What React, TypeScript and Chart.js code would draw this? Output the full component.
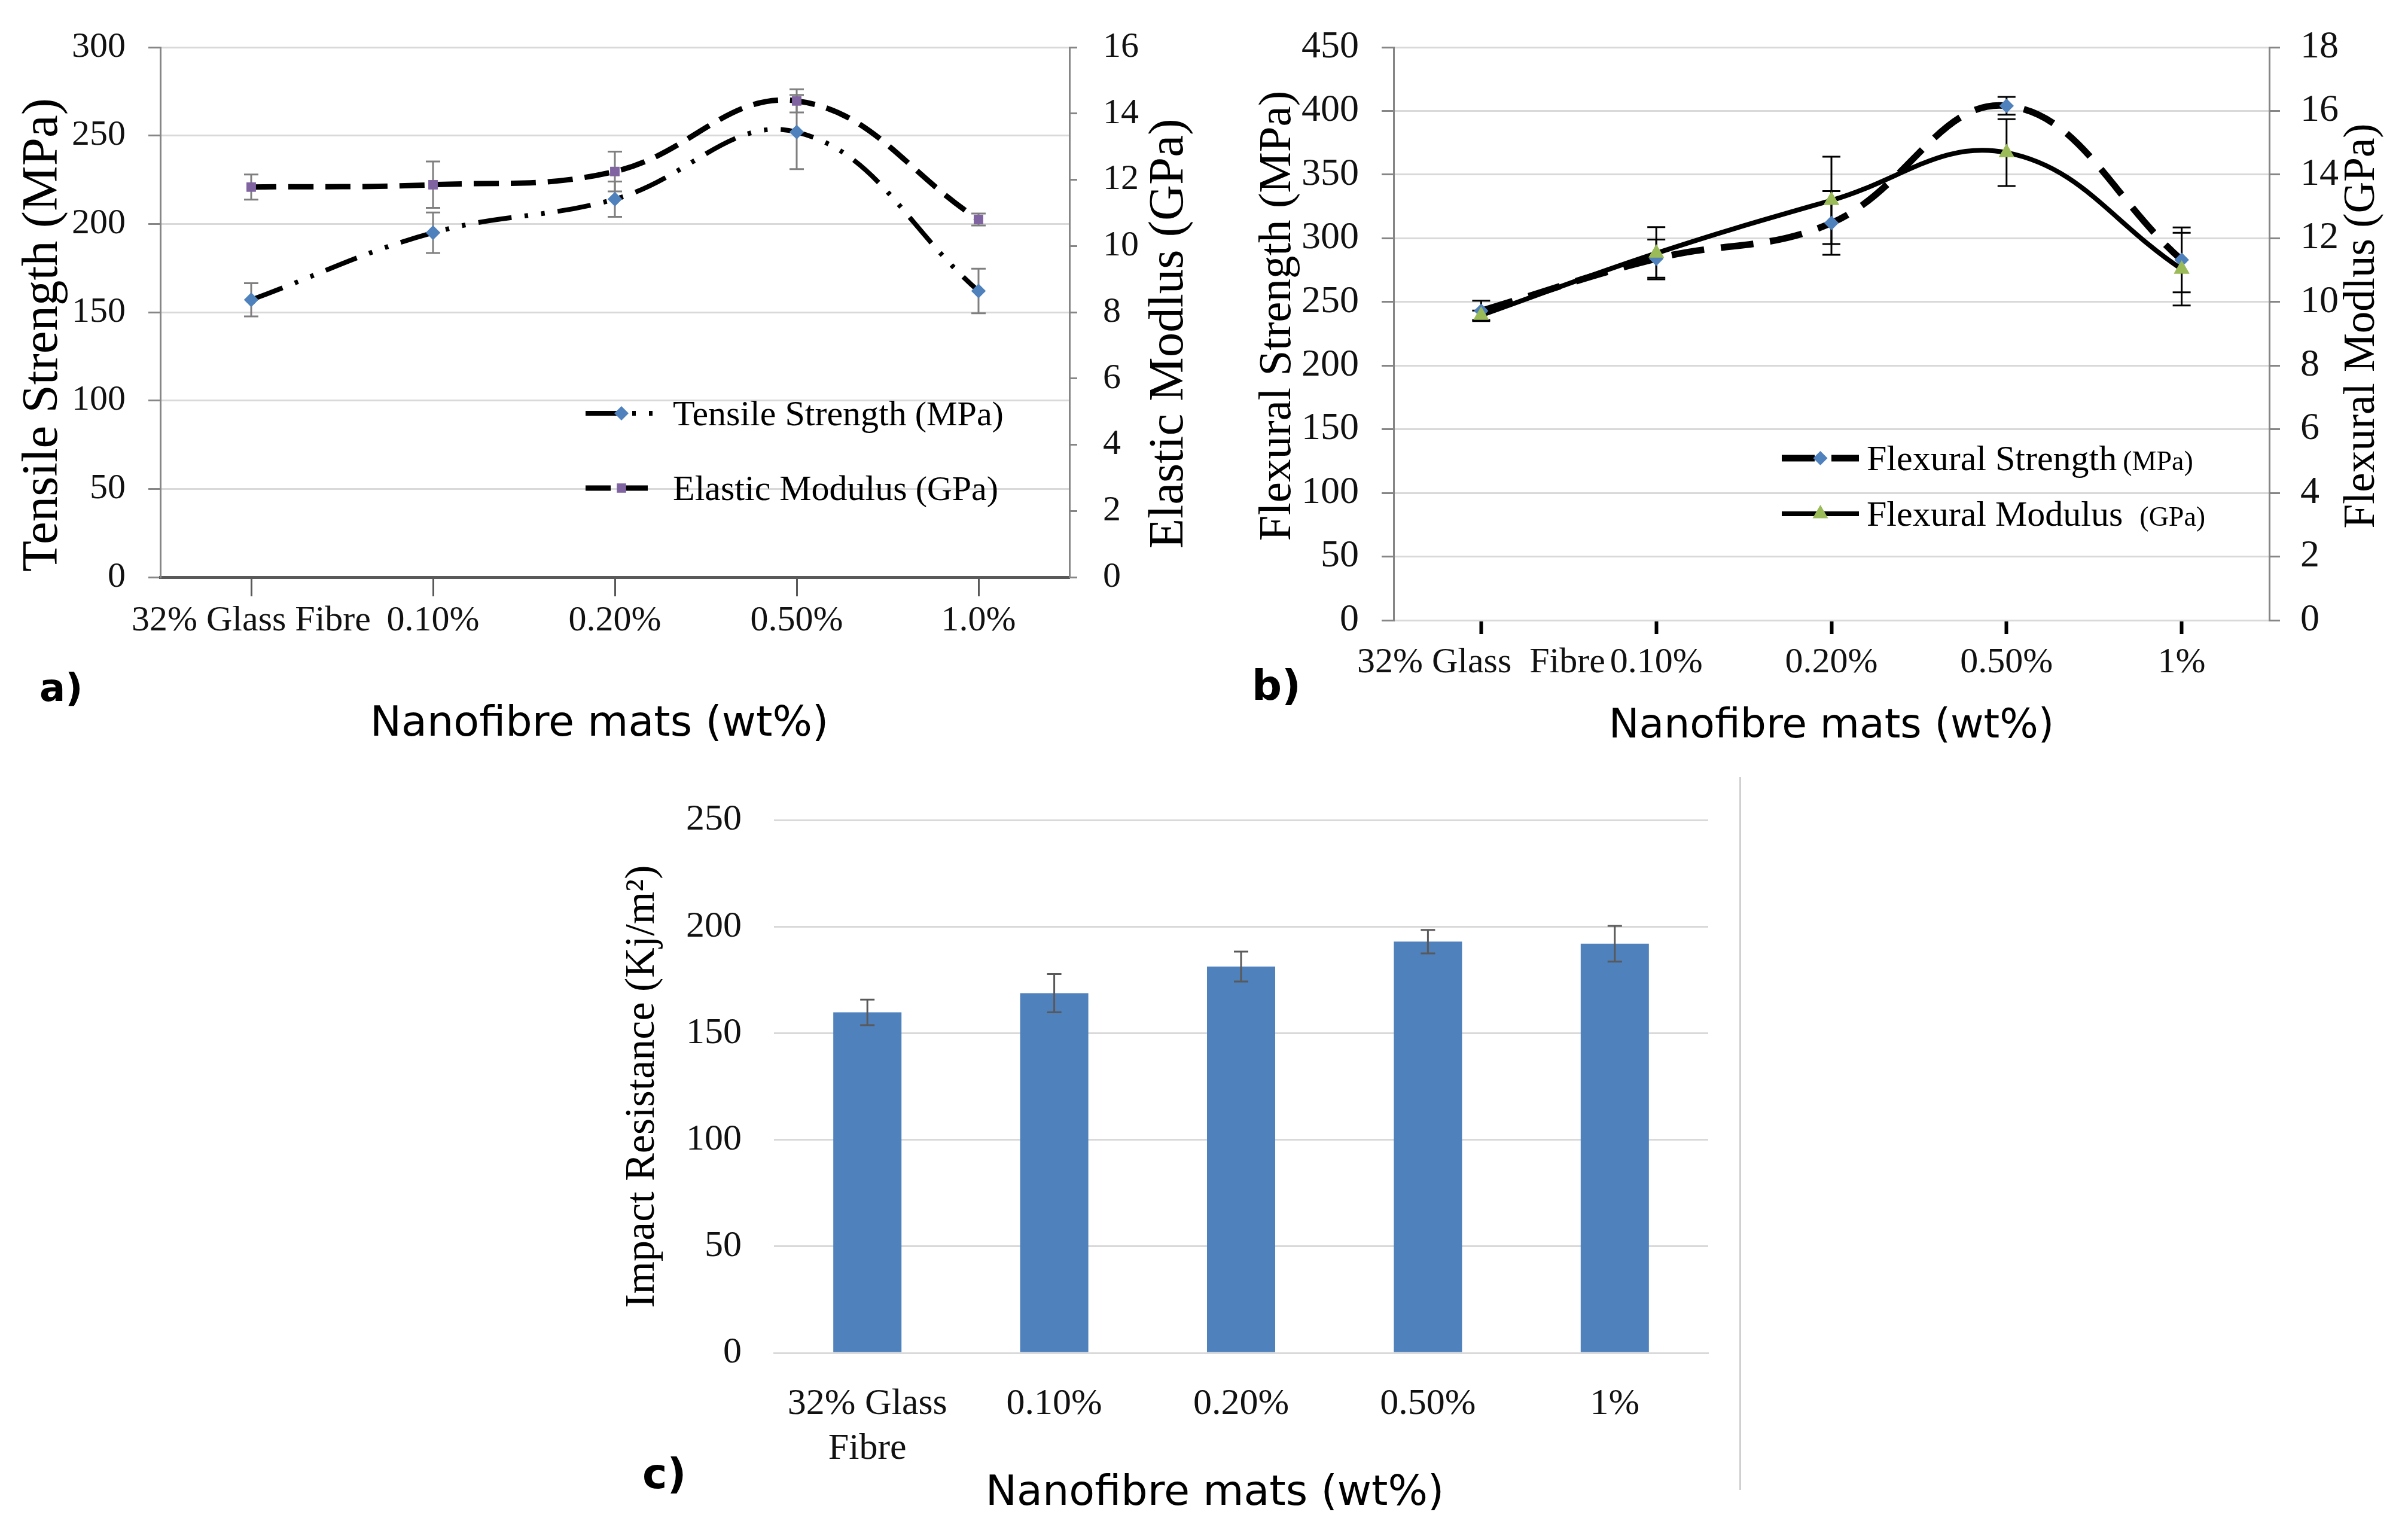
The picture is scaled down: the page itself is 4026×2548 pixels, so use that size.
import React, { useEffect, useRef } from 'react';
import { Chart, registerables } from 'chart.js';

Chart.register(...registerables);

// ---------------- data ----------------
const categoriesA = ['32% Glass Fibre', '0.10%', '0.20%', '0.50%', '1.0%'];
const legendNamesA = ['Tensile Strength', 'Elastic Modulus'];
const legendUnitsA = ['(MPa)', '(GPa)'];
const tensileStrength = [157, 195, 214, 252, 162];
const tensileErr = [9.4, 11.5, 10, 21, 12.6];
const elasticModulus = [11.78, 11.85, 12.25, 14.38, 10.8];
const elasticErr = [0.38, 0.7, 0.6, 0.35, 0.18];

const categoriesB = ['32% Glass  Fibre', '0.10%', '0.20%', '0.50%', '1%'];
const legendNamesB = ['Flexural Strength', 'Flexural Modulus'];
const legendUnitsB = ['(MPa)', '(GPa)'];
const flexuralStrength = [243, 284, 312, 404, 283];
const flexuralStrengthErr = [8, 15, 25, 7, 25.5];
const flexuralModulus = [9.58, 11.53, 13.19, 14.69, 11.03];
const flexuralModulusErr = [0.15, 0.82, 1.37, 1.05, 1.14];

const categoriesC = [['32% Glass', 'Fibre'], '0.10%', '0.20%', '0.50%', '1%'];
const impactResistance = [159.8, 168.8, 181.3, 193, 192];
const impactErr = [6, 9, 7, 5.5, 8.4];

const xTitle = 'Nanofibre mats (wt%)';

// ---------------- fonts / colours ----------------
const serif = '"Liberation Serif", "Times New Roman", serif';
const sans = '"DejaVu Sans", Verdana, sans-serif';
const BLUE = '#4F81BD';
const PURPLE = '#8064A2';
const GREEN = '#9BBB59';
const GRID = '#d9d9d9';
const AXIS = '#868686';

// ---------------- plugins ----------------
function drawMarker(ctx: any, style: string, x: number, y: number, r: number, color: string) {
  ctx.save();
  ctx.setLineDash([]);
  ctx.fillStyle = color;
  ctx.beginPath();
  if (style === 'rectRot') {
    ctx.moveTo(x, y - r);
    ctx.lineTo(x + r, y);
    ctx.lineTo(x, y + r);
    ctx.lineTo(x - r, y);
  } else if (style === 'triangle') {
    ctx.moveTo(x, y - r);
    ctx.lineTo(x + 0.866 * r, y + 0.5 * r);
    ctx.lineTo(x - 0.866 * r, y + 0.5 * r);
  } else {
    const s = r * Math.SQRT1_2;
    ctx.rect(x - s, y - s, 2 * s, 2 * s);
  }
  ctx.closePath();
  ctx.fill();
  ctx.restore();
}

const errorBarsPlugin = {
  id: 'errorBars',
  afterDatasetsDraw(chart: any) {
    const ctx = chart.ctx;
    chart.data.datasets.forEach((ds: any, i: number) => {
      if (!ds.errors) return;
      const meta = chart.getDatasetMeta(i);
      const yScale = chart.scales[meta.yAxisID];
      ctx.save();
      ctx.setLineDash([]);
      ctx.strokeStyle = ds.errorColor;
      ctx.lineWidth = ds.errorWidth;
      ds.data.forEach((v: number, j: number) => {
        const el = meta.data[j];
        if (!el) return;
        const x = el.x;
        const y1 = yScale.getPixelForValue(v + ds.errors[j]);
        const y2 = yScale.getPixelForValue(v - ds.errors[j]);
        const c = ds.errorCap / 2;
        ctx.beginPath();
        ctx.moveTo(x, y1);
        ctx.lineTo(x, y2);
        ctx.moveTo(x - c, y1);
        ctx.lineTo(x + c, y1);
        ctx.moveTo(x - c, y2);
        ctx.lineTo(x + c, y2);
        ctx.stroke();
      });
      ctx.restore();
    });
    chart.data.datasets.forEach((ds: any, i: number) => {
      if (!ds.errors || chart.config.type !== 'line') return;
      const meta = chart.getDatasetMeta(i);
      meta.data.forEach((el: any) => drawMarker(ctx, ds.pointStyle, el.x, el.y, ds.pointRadius, ds.pointBackgroundColor));
    });
  },
};

const insideLegendPlugin = {
  id: 'insideLegend',
  afterDraw(chart: any, _args: any, opts: any) {
    if (!opts || !opts.names) return;
    const ctx = chart.ctx;
    opts.names.forEach((name: string, i: number) => {
      const ds = chart.data.datasets[i];
      const y = opts.rows[i];
      ctx.save();
      ctx.strokeStyle = ds.borderColor;
      ctx.lineWidth = ds.borderWidth;
      ctx.setLineDash(ds.borderDash || []);
      ctx.beginPath();
      ctx.moveTo(opts.lineX0, y);
      ctx.lineTo(opts.lineX1, y);
      ctx.stroke();
      ctx.restore();
      drawMarker(ctx, ds.pointStyle, (opts.lineX0 + opts.lineX1) / 2, y, ds.pointRadius, ds.pointBackgroundColor);
      ctx.save();
      ctx.fillStyle = '#000';
      ctx.textAlign = 'left';
      ctx.textBaseline = 'alphabetic';
      const base = y + opts.nameSize * 0.33;
      ctx.font = `${opts.nameSize}px ${serif}`;
      ctx.fillText(name, opts.textX, base);
      const w = ctx.measureText(name).width;
      ctx.font = `${opts.unitSize}px ${serif}`;
      ctx.fillText(opts.units[i], opts.textX + w + opts.unitGap[i], base);
      ctx.restore();
    });
  },
};

// axis titles: vertical ones read bottom-to-top on both sides
const axisTitlesPlugin = {
  id: 'axisTitles',
  afterDraw(chart: any, _args: any, opts: any) {
    if (!opts || !opts.items) return;
    const ctx = chart.ctx;
    opts.items.forEach((it: any) => {
      const s = chart.scales[it.scaleId];
      ctx.save();
      if (it.side === 'bottom') {
        ctx.translate(it.centerX, s.bottom - it.offset);
        ctx.font = `${it.size}px ${it.family || serif}`;
      } else {
        const x = it.side === 'left' ? s.left + it.offset : s.right - it.offset;
        ctx.translate(x, it.centerY);
        ctx.rotate(-Math.PI / 2);
        ctx.font = `${it.size}px ${it.family || serif}`;
      }
      ctx.fillStyle = '#000';
      ctx.textAlign = 'center';
      ctx.textBaseline = 'middle';
      ctx.fillText(it.text, 0, 0);
      ctx.restore();
    });
  },
};

// ---------------- configs ----------------
function configA(): any {
  return {
    type: 'line',
    data: {
      labels: categoriesA,
      datasets: [
        {
          label: `${legendNamesA[0]} ${legendUnitsA[0]}`,
          data: tensileStrength,
          yAxisID: 'y',
          borderColor: '#000',
          borderWidth: 8,
          borderDash: [56, 22, 6, 22, 6, 22],
          tension: 0.4,
          fill: false,
          pointStyle: 'rectRot',
          pointRadius: 12,
          pointBackgroundColor: BLUE,
          pointBorderColor: BLUE,
          pointBorderWidth: 0,
          errors: tensileErr,
          errorColor: '#7f7f7f',
          errorWidth: 3,
          errorCap: 24,
        },
        {
          label: `${legendNamesA[1]} ${legendUnitsA[1]}`,
          data: elasticModulus,
          yAxisID: 'y1',
          borderColor: '#000',
          borderWidth: 9,
          borderDash: [42, 20],
          tension: 0.4,
          fill: false,
          pointStyle: 'rect',
          pointRadius: 11,
          pointBackgroundColor: PURPLE,
          pointBorderColor: PURPLE,
          pointBorderWidth: 0,
          errors: elasticErr,
          errorColor: '#7f7f7f',
          errorWidth: 3,
          errorCap: 24,
        },
      ],
    },
    options: {
      responsive: false,
      animation: false,
      devicePixelRatio: 1,
      layout: { padding: { top: 61, left: 0, right: 0, bottom: 0 } },
      plugins: {
        legend: { display: false },
        tooltip: { enabled: false },
        insideLegend: {
          names: legendNamesA,
          units: legendUnitsA,
          lineX0: 979,
          lineX1: 1099,
          textX: 1125,
          rows: [691, 816],
          nameSize: 60,
          unitSize: 58,
          unitGap: [14, 14],
        },
        axisTitles: {
          items: [
            { scaleId: 'y', side: 'left', offset: 73, centerY: 560, size: 85, text: 'Tensile Strength (MPa)' },
            { scaleId: 'y1', side: 'right', offset: 85, centerY: 558, size: 83, text: 'Elastic Modlus (GPa)' },
            { scaleId: 'x', side: 'bottom', offset: 58, centerX: 1002, size: 70, family: sans, text: xTitle },
          ],
        },
      },
      scales: {
        x: {
          offset: true,
          grid: { drawOnChartArea: false, drawTicks: true, tickLength: 32, tickColor: '#595959', tickWidth: 3 },
          border: { color: '#595959', width: 5 },
          ticks: { font: { family: serif, size: 60 }, color: '#111', padding: 5, maxRotation: 0, minRotation: 0, autoSkip: false },
          title: { display: false },
          afterFit: (s: any) => { s.height = 305; },
        },
        y: {
          position: 'left',
          min: 0,
          max: 300,
          ticks: { stepSize: 50, font: { family: serif, size: 60 }, color: '#111', padding: 38 },
          grid: {
            color: (c: any) => (c.tick && c.tick.value === 0 ? 'rgba(0,0,0,0)' : GRID),
            lineWidth: 3,
            tickLength: 20,
            tickColor: AXIS,
          },
          border: { color: AXIS, width: 3 },
          title: { display: false },
          afterFit: (s: any) => { s.width = 268; },
        },
        y1: {
          position: 'right',
          min: 0,
          max: 16,
          ticks: { stepSize: 2, font: { family: serif, size: 60 }, color: '#111', padding: 43 },
          grid: { drawOnChartArea: false, tickLength: 13, tickColor: AXIS, lineWidth: 3 },
          border: { color: AXIS, width: 3 },
          title: { display: false },
          afterFit: (s: any) => { s.width = 252; },
        },
      },
    },
    plugins: [errorBarsPlugin, insideLegendPlugin, axisTitlesPlugin],
  };
}

function configB(): any {
  return {
    type: 'line',
    data: {
      labels: categoriesB,
      datasets: [
        {
          label: `${legendNamesB[0]} ${legendUnitsB[0]}`,
          data: flexuralStrength,
          yAxisID: 'y',
          borderColor: '#000',
          borderWidth: 11,
          borderDash: [55, 28],
          tension: 0.4,
          fill: false,
          pointStyle: 'rectRot',
          pointRadius: 12,
          pointBackgroundColor: BLUE,
          pointBorderColor: BLUE,
          pointBorderWidth: 0,
          errors: flexuralStrengthErr,
          errorColor: '#000',
          errorWidth: 3,
          errorCap: 30,
        },
        {
          label: `${legendNamesB[1]} ${legendUnitsB[1]}`,
          data: flexuralModulus,
          yAxisID: 'y1',
          borderColor: '#000',
          borderWidth: 8,
          tension: 0.4,
          fill: false,
          pointStyle: 'triangle',
          pointRadius: 15,
          pointBackgroundColor: GREEN,
          pointBorderColor: GREEN,
          pointBorderWidth: 0,
          errors: flexuralModulusErr,
          errorColor: '#000',
          errorWidth: 3,
          errorCap: 30,
        },
      ],
    },
    options: {
      responsive: false,
      animation: false,
      devicePixelRatio: 1,
      layout: { padding: { top: 79, left: 0, right: 0, bottom: 0 } },
      plugins: {
        legend: { display: false },
        tooltip: { enabled: false },
        insideLegend: {
          names: legendNamesB,
          units: legendUnitsB,
          lineX0: 939,
          lineX1: 1068,
          textX: 1081,
          rows: [766, 859],
          nameSize: 60,
          unitSize: 46,
          unitGap: [10, 28],
        },
        axisTitles: {
          items: [
            { scaleId: 'y', side: 'left', offset: 97, centerY: 528, size: 77, text: 'Flexural Strength (MPa)' },
            { scaleId: 'y1', side: 'right', offset: 76, centerY: 545, size: 73, text: 'Flexural Modlus (GPa)' },
          ],
        },
      },
      scales: {
        x: {
          offset: true,
          grid: { drawOnChartArea: false, drawTicks: true, tickLength: 23, tickColor: '#000', tickWidth: 6 },
          border: { color: GRID, width: 3 },
          ticks: { font: { family: serif, size: 60 }, color: '#111', padding: 12, maxRotation: 0, minRotation: 0, autoSkip: false },
          title: { display: true, text: xTitle, font: { family: sans, size: 68 }, color: '#000', padding: { top: 0, bottom: 14 } },
          afterFit: (s: any) => { s.height = 233; },
        },
        y: {
          position: 'left',
          min: 0,
          max: 450,
          ticks: { stepSize: 50, font: { family: serif, size: 64 }, color: '#111', padding: 38 },
          grid: { color: GRID, lineWidth: 3, tickLength: 20, tickColor: AXIS },
          border: { color: AXIS, width: 3 },
          title: { display: false },
          afterFit: (s: any) => { s.width = 290; },
        },
        y1: {
          position: 'right',
          min: 0,
          max: 18,
          ticks: { stepSize: 2, font: { family: serif, size: 64 }, color: '#111', padding: 34 },
          grid: { drawOnChartArea: false, tickLength: 18, tickColor: AXIS, lineWidth: 3 },
          border: { color: AXIS, width: 3 },
          title: { display: false },
          afterFit: (s: any) => { s.width = 232; },
        },
      },
    },
    plugins: [errorBarsPlugin, insideLegendPlugin, axisTitlesPlugin],
  };
}

function configC(): any {
  return {
    type: 'bar',
    data: {
      labels: categoriesC,
      datasets: [
        {
          label: 'Impact Resistance (Kj/m²)',
          data: impactResistance,
          backgroundColor: BLUE,
          borderWidth: 0,
          barPercentage: 0.365,
          categoryPercentage: 1.0,
          errors: impactErr,
          errorColor: '#595959',
          errorWidth: 3,
          errorCap: 24,
        },
      ],
    },
    options: {
      responsive: false,
      animation: false,
      devicePixelRatio: 1,
      layout: { padding: { top: 77, left: 0, right: 44, bottom: 0 } },
      plugins: {
        legend: { display: false },
        tooltip: { enabled: false },
        axisTitles: {
          items: [{ scaleId: 'x', side: 'bottom', offset: 50, centerX: 1031, size: 70, family: sans, text: xTitle }],
        },
      },
      scales: {
        x: {
          grid: { display: false },
          border: { display: true, color: GRID, width: 3 },
          ticks: { font: { family: serif, size: 62, lineHeight: 1.2 }, color: '#111', padding: 41, maxRotation: 0, minRotation: 0, autoSkip: false },
          title: { display: false },
          afterFit: (s: any) => { s.height = 286; },
        },
        y: {
          min: 0,
          max: 250,
          ticks: { stepSize: 50, font: { family: serif, size: 62 }, color: '#111', padding: 54 },
          grid: { color: GRID, lineWidth: 3, drawTicks: false },
          border: { display: false },
          title: { display: true, text: 'Impact Resistance (Kj/m²)', font: { family: serif, size: 70 }, color: '#000', padding: { top: 33, bottom: 0 } },
          afterFit: (s: any) => { s.width = 294; },
        },
      },
    },
    plugins: [errorBarsPlugin, axisTitlesPlugin],
  };
}

const panelLabel = (text: string, left: number, top: number, size: number) => (
  <div
    style={{
      position: 'absolute',
      left,
      top,
      fontFamily: sans,
      fontWeight: 'bold',
      fontSize: size,
      lineHeight: `${size}px`,
      color: '#000',
    }}
  >
    {text}
  </div>
);

export default function App() {
  const refA = useRef<HTMLCanvasElement | null>(null);
  const refB = useRef<HTMLCanvasElement | null>(null);
  const refC = useRef<HTMLCanvasElement | null>(null);

  useEffect(() => {
    const charts: any[] = [];
    if (refA.current) charts.push(new Chart(refA.current, configA()));
    if (refB.current) charts.push(new Chart(refB.current, configB()));
    if (refC.current) charts.push(new Chart(refC.current, configC()));
    return () => charts.forEach((c) => c.destroy());
  }, []);

  return (
    <div style={{ position: 'absolute', left: 0, top: 0, width: 4026, height: 2548, background: '#fff', overflow: 'hidden' }}>
      <canvas ref={refA} width={2040} height={1270} style={{ position: 'absolute', left: 0, top: 0, width: 2040, height: 1270 }} />
      <canvas ref={refB} width={1986} height={1270} style={{ position: 'absolute', left: 2040, top: 0, width: 1986, height: 1270 }} />
      <canvas ref={refC} width={1900} height={1268} style={{ position: 'absolute', left: 1000, top: 1280, width: 1900, height: 1268 }} />
      <div style={{ position: 'absolute', left: 2908, top: 1299, width: 3, height: 1192, background: '#d0d0d0' }} />
      {panelLabel('a)', 66, 1118, 64)}
      {panelLabel('b)', 2093, 1111, 70)}
      {panelLabel('c)', 1074, 2429, 70)}
    </div>
  );
}
